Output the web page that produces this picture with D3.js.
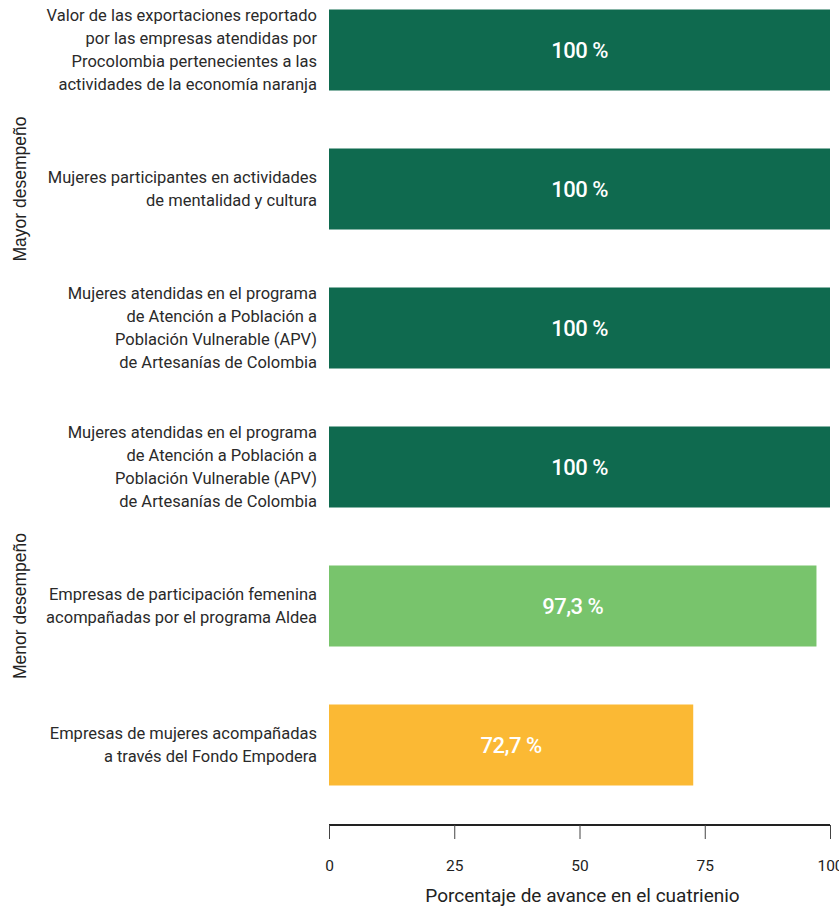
<!DOCTYPE html>
<html><head><meta charset="utf-8">
<script src="https://cdn.jsdelivr.net/npm/d3@7"></script>
<style>body{margin:0;background:#fff}</style>
</head><body>
<svg id="c" width="839" height="908"></svg>
<script>
const categories = [
  ["Valor de las exportaciones reportado","por las empresas atendidas por","Procolombia pertenecientes a las","actividades de la economía naranja"],
  ["Mujeres participantes en actividades","de mentalidad y cultura"],
  ["Mujeres atendidas en el programa","de Atención a Población a","Población Vulnerable (APV)","de Artesanías de Colombia"],
  ["Mujeres atendidas en el programa","de Atención a Población a","Población Vulnerable (APV)","de Artesanías de Colombia"],
  ["Empresas de participación femenina","acompañadas por el programa Aldea"],
  ["Empresas de mujeres acompañadas","a través del Fondo Empodera"]
];
const values = [100, 100, 100, 100, 97.3, 72.7];
const valueLabels = ["100 %", "100 %", "100 %", "100 %", "97,3 %", "72,7 %"];
const barColors = ["#0f6a4f", "#0f6a4f", "#0f6a4f", "#0f6a4f", "#78c46c", "#fbb934"];
const tickValues = [0, 25, 50, 75, 100];
const groups = [
  {label: "Mayor desempeño", from: 0, to: 2},
  {label: "Menor desempeño", from: 3, to: 5}
];
const xTitle = "Porcentaje de avance en el cuatrienio";

const svg = d3.select("#c");
const font = "Roboto, 'Noto Sans', sans-serif";
const x = d3.scaleLinear().domain([0, 100]).range([329, 830]);
const idx = d3.range(values.length);
const y = d3.scaleBand().domain(idx).range([9.5, 785.5]).paddingInner(58 / 139).paddingOuter(0);
const bw = y.bandwidth();

svg.append("g").selectAll("rect").data(idx).join("rect")
  .attr("x", x(0)).attr("y", d => y(d))
  .attr("width", d => x(values[d]) - x(0))
  .attr("height", bw)
  .attr("fill", d => barColors[d]);

svg.append("g").selectAll("text").data(idx).join("text")
  .attr("x", d => (x(0) + x(values[d])) / 2)
  .attr("y", d => y(d) + bw / 2)
  .attr("dy", "0.36em")
  .attr("text-anchor", "middle")
  .attr("fill", "#fff")
  .attr("font-family", font)
  .attr("font-weight", 500)
  .attr("font-size", 22)
  .attr("letter-spacing", "-0.5px")
  .text(d => valueLabels[d]);

const lh = 23;
const lab = svg.append("g");
idx.forEach(d => {
  const lines = categories[d];
  const cy = y(d) + bw / 2;
  const t = lab.append("text")
    .attr("text-anchor", "end")
    .attr("fill", "#2a2a2a")
    .attr("font-family", font)
    .attr("font-size", 16.5);
  lines.forEach((ln, i) => {
    t.append("tspan").attr("x", 317)
      .attr("y", cy + (i - (lines.length - 1) / 2) * lh)
      .attr("dy", "0.36em")
      .text(ln);
  });
});

groups.forEach(g => {
  const cy = (y(g.from) + y(g.to) + bw) / 2;
  svg.append("text")
    .attr("transform", `translate(26,${cy}) rotate(-90)`)
    .attr("text-anchor", "middle")
    .attr("fill", "#222")
    .attr("font-family", "'Liberation Sans', Arial, sans-serif")
    .attr("font-size", 17.5)
    .text(g.label);
});

const ax = svg.append("g").attr("transform", "translate(0,825)")
  .call(d3.axisBottom(x).tickValues(tickValues).tickSize(14).tickPadding(21).tickFormat(d3.format("d")));
ax.select(".domain").attr("stroke", "#222").attr("stroke-width", 2).attr("d", `M${x(0)},0H${x(100)}`);
ax.selectAll(".tick line").attr("stroke", "#444").attr("stroke-width", 1);
ax.selectAll(".tick text").attr("font-family", font).attr("font-size", 15.5).attr("fill", "#222");

svg.append("text")
  .attr("x", (x(0) + x(100)) / 2 + 3).attr("y", 902)
  .attr("text-anchor", "middle")
  .attr("fill", "#222")
  .attr("font-family", font)
  .attr("font-size", 19)
  .text(xTitle);
</script>
</body></html>
